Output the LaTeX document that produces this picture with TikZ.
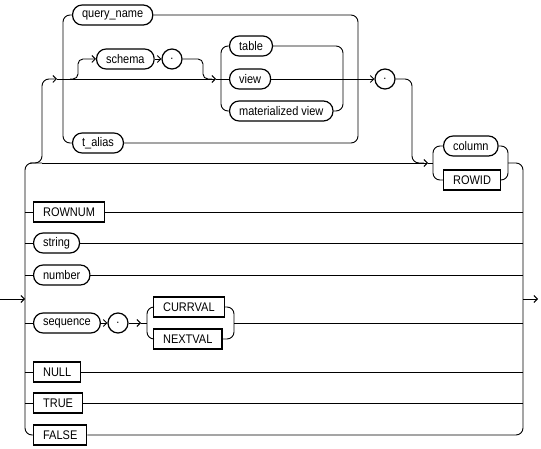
\documentclass[tikz,border=0pt]{standalone}
\usepackage{fontspec}
\setmainfont{Liberation Sans}[FakeStretch=0.88]
\usetikzlibrary{arrows.meta}
\begin{document}
\begin{tikzpicture}[x=1pt,y=-1pt,
  font=\fontsize{12.5pt}{14pt}\selectfont,
  line width=0.9pt,
  pill/.style={draw,line width=1.2pt,rectangle,rounded corners=9.5pt,minimum height=20pt,inner xsep=9.5pt,inner ysep=0pt,anchor=west},
  kbox/.style={draw,line width=1.2pt,rectangle,minimum height=20pt,inner xsep=9.5pt,inner ysep=0pt,anchor=west},
  dotc/.style={draw,line width=1.2pt,circle,minimum size=20pt,inner sep=0pt},
  rc/.style={rounded corners=7pt},
  rcs/.style={rounded corners=5pt},
  arr/.style={-{Straight Barb[length=3.5pt,width=7pt]}}
]
\useasboundingbox (0,0) rectangle (541,449);

% nodes
\node[pill] (qn) at (72,15) {query\_name};
\node[pill] (schema) at (96,59) {schema};
\node[dotc] (dot1) at (172,59) {.};
\node[pill] (table) at (229,46) {table};
\node[pill] (view) at (229,79) {view};
\node[pill] (mv) at (229,111) {materialized view};
\node[pill] (talias) at (72,143) {t\_alias};
\node[dotc] (dot2) at (385,79) {.};
\node[pill] (column) at (443,146) {column};
\node[kbox] (rowid) at (443,180) {ROWID};
\node[kbox] (rownum) at (33,212) {ROWNUM};
\node[pill] (string) at (33,243) {string};
\node[pill] (number) at (33,275) {number};
\node[pill] (sequence) at (33,323) {sequence};
\node[dotc] (dot3) at (118,323) {.};
\node[kbox] (curr) at (153,307) {CURRVAL};
\node[kbox] (next) at (153,339) {NEXTVAL};
\node[kbox] (null) at (33,372) {NULL};
\node[kbox] (true) at (33,403) {TRUE};
\node[kbox] (false) at (33,435) {FALSE};

% junction coordinates
\coordinate (in) at (0,299);
\coordinate (out) at (538,299);
\coordinate (lbus) at (25,299);
\coordinate (rbus) at (523,299);

% entry / exit
\draw[arr] (in) -- (lbus);
\draw[arr] (rbus) -- (out);

% left bus
\draw[rc] (42,163) -- (25,163) -- (25,435) -- (false.west);
% right bus
\draw[rc] (508,163) -- (523,163) -- (523,435) -- (false.east);

% first alternative: skip line and up branch
\draw[arr] (42,163) -- (428,163);
\draw (428,163) -- (433,163);
\draw[rc,arr] (30,163) -- (42,163) -- (42,79) -- (57,79);
\draw[arr] (57,79) -- (216,79);
\draw (216,79) -- (view.west);

% prefix choice
\draw[rc] (qn.west) -- (63,15) -- (63,143) -- (talias.west);
\draw[rc] (qn.east) -- (358,15) -- (358,143) -- (talias.east);

% schema branch
\draw[rcs,arr] (70,79) -- (78,79) -- (78,59) -- (schema.west);
\draw[arr] (schema.east) -- (dot1.west);
\draw[rcs] (dot1.east) -- (203,59) -- (203,79) -- (212,79);

% table / view / materialized view
\draw[rc] (table.west) -- (221,46) -- (221,111) -- (mv.west);
\draw[rc] (table.east) -- (343,46) -- (343,111) -- (mv.east);
\draw[arr] (view.east) -- (dot2.west);

% dot2 down to column group
\draw[rc] (dot2.east) -- (412,79) -- (412,163) -- (424,163);

% column / ROWID
\draw[rc] (column.west) -- (433,146) -- (433,180) -- (rowid.west);
\draw[rc] (column.east) -- (508,146) -- (508,180) -- (rowid.east);

% other rows
\draw (25,212) -- (rownum.west);
\draw (rownum.east) -- (523,212);
\draw (25,243) -- (string.west);
\draw (string.east) -- (523,243);
\draw (25,275) -- (number.west);
\draw (number.east) -- (523,275);
\draw (25,323) -- (sequence.west);
\draw[arr] (sequence.east) -- (dot3.west);
\draw[arr] (dot3.east) -- (141,323);
\draw (141,323) -- (147,323);
\draw[rc] (curr.west) -- (147,307) -- (147,339) -- (next.west);
\draw[rc] (curr.east) -- (234,307) -- (234,339) -- (next.east);
\draw (234,323) -- (523,323);
\draw (25,372) -- (null.west);
\draw (null.east) -- (523,372);
\draw (25,403) -- (true.west);
\draw (true.east) -- (523,403);
\end{tikzpicture}
\end{document}
